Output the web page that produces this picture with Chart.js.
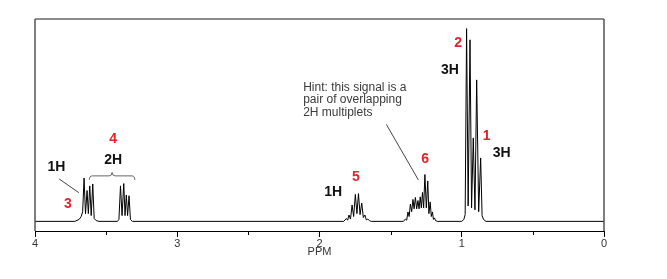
<!DOCTYPE html>
<html>
<head>
<meta charset="utf-8">
<script src="https://cdn.jsdelivr.net/npm/chart.js@4/dist/chart.umd.min.js"></script>
<style>
html,body{margin:0;padding:0;background:#fff;}
#wrap{width:667px;height:279px;}
</style>
</head>
<body>
<div id="wrap"><canvas id="c" width="667" height="279"></canvas></div>
<script>
// Chemical shift (ppm) of each point of the spectrum trace
const ppm = [
  4.00,
  3.72, 3.69, 3.675, 3.665, 3.655, 3.645, 3.634, 3.625, 3.615, 3.605, 3.594, 3.584, 3.57, 3.55,
  3.42, 3.41, 3.399, 3.388, 3.376, 3.367, 3.358, 3.349, 3.339, 3.329, 3.315,
  1.83, 1.811, 1.802, 1.793, 1.782, 1.771, 1.760, 1.748, 1.737, 1.726, 1.715, 1.703, 1.692, 1.681, 1.671, 1.660, 1.648, 1.635,
  1.41, 1.396, 1.387, 1.378, 1.370, 1.361, 1.352, 1.343, 1.335, 1.326, 1.317, 1.308, 1.300, 1.292, 1.284, 1.276, 1.268, 1.259, 1.249, 1.239, 1.231, 1.222, 1.214, 1.206, 1.199, 1.192, 1.183, 1.17,
  1.00, 0.985, 0.976, 0.966, 0.955, 0.942, 0.931, 0.919, 0.907, 0.895, 0.881, 0.867, 0.857, 0.847, 0.83,
  0.00
];
// Relative intensity at each point (tallest line = 100)
const intensity = [
  0,
  0, 1.0, 2.5, 5, 22.5, 4, 16, 4, 18.4, 3, 19.4, 1.5, 0.4, 0,
  0, 1.0, 18.4, 3, 19.6, 3, 13.7, 3, 13.3, 1, 0,
  0, 1.5, 0.6, 3.3, 1.2, 8.5, 2.5, 14.0, 4, 14.4, 3.5, 9.5, 2, 3.3, 0.8, 1.2, 0.3, 0,
  0, 1.2, 0.6, 4.9, 2.5, 9.0, 5, 11.4, 6.5, 12.4, 6.5, 10.8, 6.5, 12.7, 7, 15.0, 7, 24.3, 7, 21.0, 4, 10.1, 2.5, 4.9, 1, 1.8, 0.3, 0,
  0, 1, 3.5, 100, 8, 94.2, 7, 43.3, 6, 73.4, 5, 32.9, 3, 1, 0,
  0
];
const tickValues = [0, 1, 2, 3, 4];
const minorTickValues = [0.5, 1.5, 2.5, 3.5];
const axisTitle = 'PPM';

// Peak labels: [text, ppm, intensity, kind]
const labels = [
  ['1H', 3.850, 28.2, 'h'],
  ['3', 3.769, 9.0, 'n'],
  ['4', 3.451, 42.5, 'n'],
  ['2H', 3.451, 31.9, 'h'],
  ['5', 1.744, 22.9, 'n'],
  ['1H', 1.904, 15.4, 'h'],
  ['6', 1.257, 32.2, 'n'],
  ['2', 1.025, 92.7, 'n'],
  ['3H', 1.083, 78.6, 'h'],
  ['1', 0.825, 44.0, 'n'],
  ['3H', 0.719, 35.3, 'h']
];
const hintLines = ['Hint: this signal is a', 'pair of overlapping', '2H multiplets'];

const FONT = "'Liberation Sans', Arial, Helvetica, sans-serif";

const annot = {
  id: 'annot',
  afterDraw(chart) {
    const {ctx, chartArea: a, scales: {x, y}} = chart;
    const X = v => x.getPixelForValue(v);
    const Y = v => y.getPixelForValue(v);
    ctx.save();
    // frame
    ctx.lineWidth = 2;
    ctx.strokeStyle = '#8c8c8c';
    ctx.beginPath(); ctx.moveTo(a.left, a.top); ctx.lineTo(a.right, a.top); ctx.stroke();
    ctx.lineWidth = 1.5;
    ctx.strokeStyle = '#555';
    ctx.beginPath(); ctx.moveTo(a.left, a.top); ctx.lineTo(a.left, a.bottom); ctx.stroke();
    ctx.beginPath(); ctx.moveTo(a.right, a.top); ctx.lineTo(a.right, a.bottom); ctx.stroke();
    // minor ticks
    ctx.lineWidth = 1;
    ctx.strokeStyle = '#000';
    minorTickValues.forEach(v => {
      const px = Math.round(X(v)) + 0.5;
      ctx.beginPath(); ctx.moveTo(px, a.bottom); ctx.lineTo(px, a.bottom + 4); ctx.stroke();
    });
    // leader lines
    ctx.strokeStyle = '#444';
    ctx.lineWidth = 1;
    ctx.beginPath(); ctx.moveTo(X(3.830), Y(22.0)); ctx.lineTo(X(3.692), Y(14.9)); ctx.stroke();
    ctx.beginPath(); ctx.moveTo(X(1.530), Y(50.3)); ctx.lineTo(X(1.305), Y(21.5)); ctx.stroke();
    // brace over signal 4
    const bx0 = X(3.618), bx1 = X(3.298), bm = (bx0 + bx1) / 2;
    const yEnd = Y(21.5), yMid = Y(23.6), yTip = Y(25.4);
    ctx.strokeStyle = '#666';
    ctx.beginPath();
    ctx.moveTo(bx0, yEnd);
    ctx.quadraticCurveTo(bx0, yMid, bx0 + 3, yMid);
    ctx.lineTo(bm - 3, yMid);
    ctx.quadraticCurveTo(bm, yMid, bm, yTip);
    ctx.quadraticCurveTo(bm, yMid, bm + 3, yMid);
    ctx.lineTo(bx1 - 3, yMid);
    ctx.quadraticCurveTo(bx1, yMid, bx1, yEnd);
    ctx.stroke();
    // labels
    ctx.textAlign = 'center';
    ctx.textBaseline = 'middle';
    labels.forEach(([t, p, i, k]) => {
      ctx.font = 'bold 14px ' + FONT;
      ctx.fillStyle = k === 'n' ? '#e3232b' : '#111';
      ctx.fillText(t, X(p), Y(i));
    });
    // hint text
    ctx.font = '12px ' + FONT;
    ctx.fillStyle = '#3a3a3a';
    ctx.textAlign = 'left';
    const hx = X(2.115);
    [69.5, 63.0, 56.5].forEach((iv, k) => ctx.fillText(hintLines[k], hx, Y(iv)));
    ctx.restore();
  }
};

new Chart(document.getElementById('c').getContext('2d'), {
  type: 'line',
  data: {
    datasets: [{
      data: ppm.map((p, i) => ({x: p, y: intensity[i]})),
      borderColor: '#000',
      borderWidth: 1,
      pointRadius: 0,
      tension: 0,
      fill: false
    }]
  },
  options: {
    responsive: false,
    animation: false,
    devicePixelRatio: 1,
    layout: {padding: {left: 35, right: 63, top: 19, bottom: 0}},
    plugins: {legend: {display: false}, tooltip: {enabled: false}},
    scales: {
      x: {
        type: 'linear',
        reverse: true,
        min: 0,
        max: 4,
        afterBuildTicks: s => { s.ticks = tickValues.map(v => ({value: v})); },
        afterFit: s => { s.height = 48; s.paddingLeft = 0; s.paddingRight = 0; },
        ticks: {
          autoSkip: false,
          maxRotation: 0,
          padding: 0,
          color: '#333',
          font: {family: FONT, size: 11},
          callback: v => String(v)
        },
        grid: {drawOnChartArea: false, drawTicks: true, tickLength: 6, color: '#000'},
        border: {display: true, color: '#000', width: 1},
        title: {
          display: true,
          text: axisTitle,
          color: '#333',
          font: {family: FONT, size: 11},
          padding: {top: 0, bottom: 20}
        }
      },
      y: {display: false, min: -5, max: 105}
    }
  },
  plugins: [annot]
});
</script>
</body>
</html>
